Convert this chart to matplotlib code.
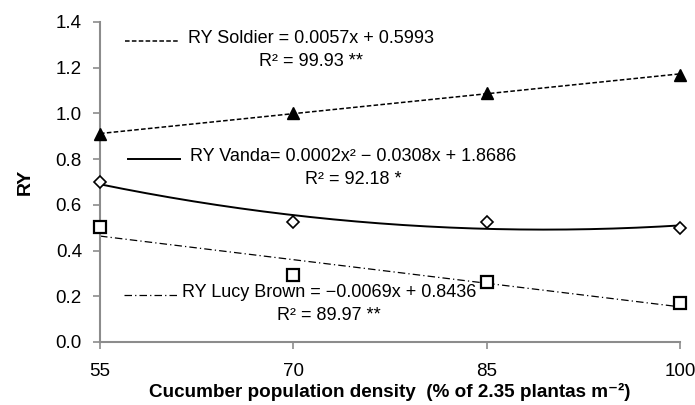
import numpy as np
import matplotlib.pyplot as plt

plt.rcParams['font.family'] = ['Liberation Sans', 'DejaVu Sans']

density = [55, 70, 85, 100]
ry_soldier = [0.91, 1.00, 1.09, 1.17]
ry_vanda = [0.70, 0.525, 0.525, 0.50]
ry_lucy = [0.505, 0.295, 0.262, 0.172]

eq_soldier = "RY Soldier = 0.0057x + 0.5993\nR² = 99.93 **"
eq_vanda = "RY Vanda= 0.0002x² − 0.0308x + 1.8686\nR² = 92.18 *"
eq_lucy = "RY Lucy Brown = −0.0069x + 0.8436\nR² = 89.97 **"

grey = "#8c8c8c"

fig = plt.figure(figsize=(6.95, 4.05), dpi=100)
ax = fig.add_axes([0.1439, 0.1556, 0.8345, 0.7901])

xs = np.linspace(55, 100, 200)
fit_s = np.polyfit(density, ry_soldier, 1)
fit_v = np.polyfit(density, ry_vanda, 2)
fit_l = np.polyfit(density, ry_lucy, 1)

ax.plot(xs, np.polyval(fit_s, xs), color="black", lw=1.1, linestyle=(0, (3, 1.5)))
ax.plot(xs, np.polyval(fit_v, xs), color="black", lw=1.4)
ax.plot(xs, np.polyval(fit_l, xs), color="black", lw=0.9, linestyle=(0, (6, 2.5, 1, 2.5)))

ax.plot(density, ry_soldier, "^", color="black", ms=9, clip_on=False, zorder=5)
ax.plot(density, ry_vanda, "D", mfc="white", mec="black", mew=1.2, ms=6, clip_on=False, zorder=5)
ax.plot(density, ry_lucy, "s", mfc="white", mec="black", mew=1.6, ms=9, clip_on=False, zorder=5)

# equation labels with key lines
tr = ax.transAxes
ax.plot([0.043, 0.138], [0.94, 0.94], transform=tr, color="black", lw=1.1, linestyle=(0, (3, 1.5)))
ax.text(0.363, 0.974, eq_soldier, transform=tr, ha="center", va="top", fontsize=13,
        linespacing=1.45, ma="center")
ax.plot([0.048, 0.138], [0.572, 0.572], transform=tr, color="black", lw=1.4)
ax.text(0.436, 0.606, eq_vanda, transform=tr, ha="center", va="top", fontsize=13,
        linespacing=1.45, ma="center")
ax.plot([0.041, 0.133], [0.147, 0.147], transform=tr, color="black", lw=0.9, linestyle=(0, (6, 2.5, 1, 2.5)))
ax.text(0.395, 0.181, eq_lucy, transform=tr, ha="center", va="top", fontsize=13,
        linespacing=1.45, ma="center")

ax.set_xlim(55, 100)
ax.set_ylim(0, 1.4)
ax.set_xticks(density)
ax.set_yticks(np.arange(0, 1.41, 0.2))
ax.set_yticklabels([f"{v:.1f}" for v in np.arange(0, 1.41, 0.2)])

for s in ["top", "right"]:
    ax.spines[s].set_visible(False)
for s in ["left", "bottom"]:
    ax.spines[s].set_color(grey)
    ax.spines[s].set_linewidth(1.5)
ax.tick_params(axis="both", colors=grey, length=5, width=1.2, labelsize=13.5, labelcolor="black")
ax.tick_params(axis="x", pad=10)
ax.tick_params(axis="y", pad=8)

ax.set_xlabel("Cucumber population density  (% of 2.35 plantas m⁻²)", fontsize=13.6,
              fontweight="bold", labelpad=2)
ax.set_ylabel("RY", fontsize=14, fontweight="bold", labelpad=16)

fig.savefig("out.png", dpi=100)
